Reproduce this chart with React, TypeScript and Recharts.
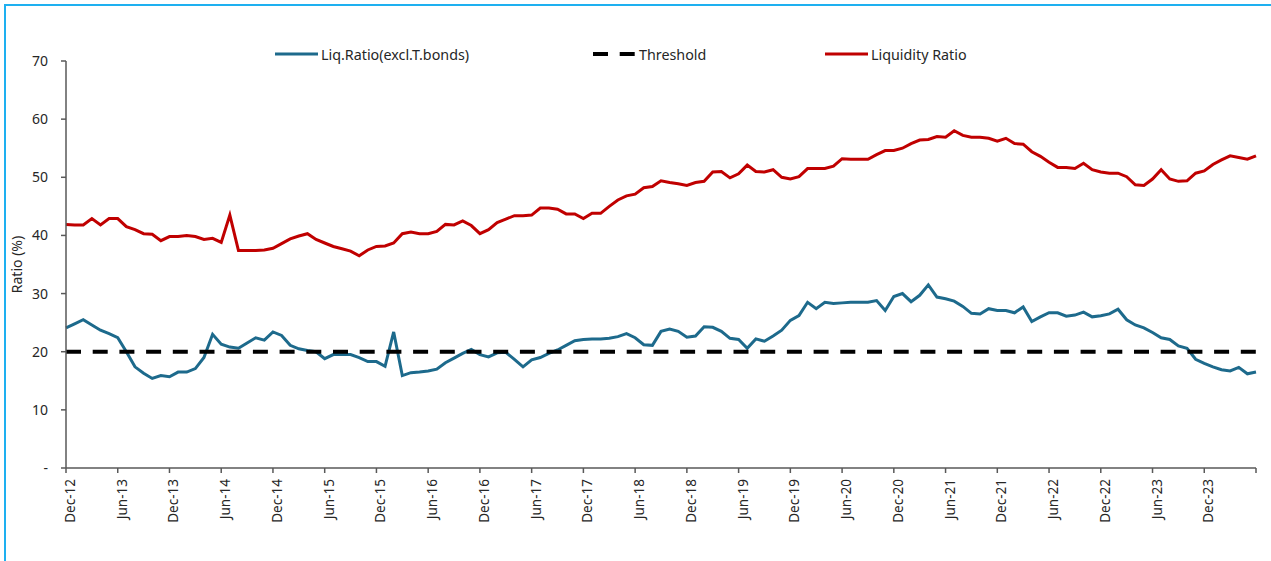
import { LineChart, Line, XAxis, YAxis, Legend, Label } from "recharts";

const MONTH_NAMES = ["Jan", "Feb", "Mar", "Apr", "May", "Jun", "Jul", "Aug", "Sep", "Oct", "Nov", "Dec"];

// monthly categories, Dec-12 through Jun-24
const months: string[] = [];
for (let k = 11; k <= 149; k++) {
    months.push(`${MONTH_NAMES[k % 12]}-${12 + Math.floor(k / 12)}`);
}

const xTicks = [
    "Dec-12", "Jun-13", "Dec-13", "Jun-14", "Dec-14", "Jun-15", "Dec-15", "Jun-16",
    "Dec-16", "Jun-17", "Dec-17", "Jun-18", "Dec-18", "Jun-19", "Dec-19", "Jun-20",
    "Dec-20", "Jun-21", "Dec-21", "Jun-22", "Dec-22", "Jun-23", "Dec-23", "Jun-24",
];
const yTicks = [0, 10, 20, 30, 40, 50, 60, 70];

const liquidityRatio = [
    41.9, 41.8, 41.8, 42.9, 41.8, 42.9, 42.9, 41.5, 41.0, 40.3, 40.2, 39.1,
    39.8, 39.8, 40.0, 39.8, 39.3, 39.5, 38.8, 43.5, 37.4, 37.4, 37.4, 37.5,
    37.8, 38.6, 39.4, 39.9, 40.3, 39.3, 38.7, 38.1, 37.7, 37.3, 36.5, 37.5,
    38.1, 38.2, 38.7, 40.3, 40.6, 40.3, 40.3, 40.7, 41.9, 41.8, 42.5, 41.7,
    40.3, 41.0, 42.2, 42.8, 43.4, 43.4, 43.5, 44.7, 44.7, 44.5, 43.7, 43.7,
    42.9, 43.8, 43.8, 45.0, 46.1, 46.8, 47.1, 48.2, 48.4, 49.4, 49.1, 48.9,
    48.6, 49.1, 49.3, 50.9, 51.0, 49.9, 50.6, 52.1, 51.0, 50.9, 51.3, 50.0,
    49.7, 50.1, 51.5, 51.5, 51.5, 51.9, 53.2, 53.1, 53.1, 53.1, 53.9, 54.6,
    54.6, 55.0, 55.8, 56.4, 56.5, 57.0, 56.9, 58.0, 57.2, 56.9, 56.9, 56.7,
    56.2, 56.7, 55.8, 55.7, 54.4, 53.6, 52.6, 51.7, 51.7, 51.5, 52.4, 51.3,
    50.9, 50.7, 50.7, 50.1, 48.7, 48.6, 49.7, 51.3, 49.7, 49.3, 49.4, 50.7,
    51.1, 52.2, 53.0, 53.7, 53.4, 53.1, 53.7,
];

const liqExclTBonds = [
    24.1, 24.8, 25.5, 24.6, 23.7, 23.1, 22.4, 20.0, 17.4, 16.3, 15.4, 15.9,
    15.7, 16.5, 16.5, 17.1, 19.0, 23.0, 21.3, 20.8, 20.6, 21.5, 22.4, 22.0,
    23.4, 22.8, 21.1, 20.5, 20.2, 20.0, 18.8, 19.5, 19.5, 19.5, 19.0, 18.3,
    18.3, 17.5, 23.4, 15.9, 16.4, 16.5, 16.7, 17.0, 18.1, 18.9, 19.7, 20.4,
    19.5, 19.1, 19.8, 19.9, 18.7, 17.4, 18.6, 19.0, 19.7, 20.3, 21.1, 21.9,
    22.1, 22.2, 22.2, 22.3, 22.6, 23.1, 22.4, 21.2, 21.1, 23.5, 23.9, 23.5,
    22.5, 22.7, 24.3, 24.2, 23.5, 22.3, 22.1, 20.6, 22.2, 21.8, 22.7, 23.7,
    25.4, 26.2, 28.5, 27.4, 28.5, 28.3, 28.4, 28.5, 28.5, 28.5, 28.8, 27.1,
    29.5, 30.0, 28.6, 29.7, 31.5, 29.4, 29.1, 28.7, 27.8, 26.6, 26.5, 27.4,
    27.1, 27.1, 26.7, 27.7, 25.2, 26.0, 26.7, 26.7, 26.1, 26.3, 26.8, 26.0,
    26.2, 26.5, 27.3, 25.5, 24.6, 24.1, 23.3, 22.4, 22.1, 21.0, 20.6, 18.7,
    18.0, 17.4, 16.9, 16.7, 17.3, 16.2, 16.5,
];

const threshold = 20;

const chartData = months.map((month, i) => ({
    month,
    exclTBonds: liqExclTBonds[i],
    threshold,
    liquidity: liquidityRatio[i],
}));

const series = [
    { key: "exclTBonds", name: "Liq.Ratio(excl.T.bonds)", color: "#1D6A8C", width: 3, dash: undefined as string | undefined, legendWidth: 318 },
    { key: "threshold", name: "Threshold", color: "#000000", width: 4, dash: "15 11.7", legendWidth: 232 },
    { key: "liquidity", name: "Liquidity Ratio", color: "#C00000", width: 3, dash: undefined as string | undefined, legendWidth: 160 },
];

const FONT = "'Noto Sans', sans-serif";
const TEXT = "#262626";
const AXIS = "#595959";

function XTick({ x, y, payload }: any) {
    // last tick (Jun-24) has a mark but no label
    if (payload.value === "Jun-24") return null;
    return (
        <text
            transform={`translate(${x + 4},${y}) rotate(-90)`}
            x={-4}
            textAnchor="end"
            dominantBaseline="central"
            fontSize={13.5}
            fontFamily={FONT}
            fill={TEXT}
        >
            {payload.value}
        </text>
    );
}

function YTitle({ viewBox }: any) {
    const cx = 16;
    const cy = viewBox.y + viewBox.height / 2;
    return (
        <text
            x={cx}
            y={cy}
            transform={`rotate(-90, ${cx}, ${cy})`}
            textAnchor="middle"
            dominantBaseline="central"
            fontSize={14}
            fontFamily={FONT}
            fill={TEXT}
        >
            Ratio (%)
        </text>
    );
}

function LegendContent() {
    return (
        <div style={{ display: "flex", alignItems: "center", fontFamily: FONT, fontSize: 14.3, color: TEXT }}>
            {series.map((s) => (
                <div key={s.key} style={{ display: "flex", alignItems: "center", height: 20, width: s.legendWidth }}>
                    <svg width={43} height={8} style={{ marginRight: 3, flexShrink: 0 }}>
                        <line x1={0} y1={4} x2={43} y2={4} stroke={s.color} strokeWidth={s.width} strokeDasharray={s.dash} />
                    </svg>
                    <span style={{ whiteSpace: "nowrap" }}>{s.name}</span>
                </div>
            ))}
        </div>
    );
}

export default function App() {
    return (
        <div style={{ position: "absolute", left: 0, top: 0, width: 1271, height: 561, background: "#fff", overflow: "hidden" }}>
            <div
                style={{
                    position: "absolute", left: 4, top: 4, width: 1300, height: 600,
                    borderLeft: "2px solid #1EB0F0", borderTop: "2px solid #1EB0F0",
                }}
            />
            <LineChart width={1271} height={561} data={chartData} margin={{ top: 61, right: 15, left: 21, bottom: 23 }}>
                <XAxis
                    dataKey="month"
                    ticks={xTicks}
                    interval={0}
                    height={70}
                    tickSize={5}
                    tick={<XTick />}
                    axisLine={{ stroke: AXIS, strokeWidth: 1.5 }}
                    tickLine={{ stroke: AXIS, strokeWidth: 1.5 }}
                />
                <YAxis
                    width={45}
                    domain={[0, 70]}
                    ticks={yTicks}
                    interval={0}
                    tickSize={5}
                    tickMargin={13}
                    tickFormatter={(v: number) => (v === 0 ? "-" : String(v))}
                    tick={{ fontSize: 14, fontFamily: FONT, fill: TEXT }}
                    axisLine={{ stroke: AXIS, strokeWidth: 1.5 }}
                    tickLine={{ stroke: AXIS, strokeWidth: 1.5 }}
                >
                    <Label content={<YTitle />} />
                </YAxis>
                <Legend
                    layout="horizontal"
                    verticalAlign="middle"
                    align="center"
                    content={<LegendContent />}
                    wrapperStyle={{ top: 44, left: 275, width: "auto", height: 20 }}
                />
                {series.map((s) => (
                    <Line
                        key={s.key}
                        type="linear"
                        dataKey={s.key}
                        name={s.name}
                        stroke={s.color}
                        strokeWidth={s.width}
                        strokeDasharray={s.dash}
                        dot={false}
                        activeDot={false}
                        isAnimationActive={false}
                    />
                ))}
            </LineChart>
        </div>
    );
}
